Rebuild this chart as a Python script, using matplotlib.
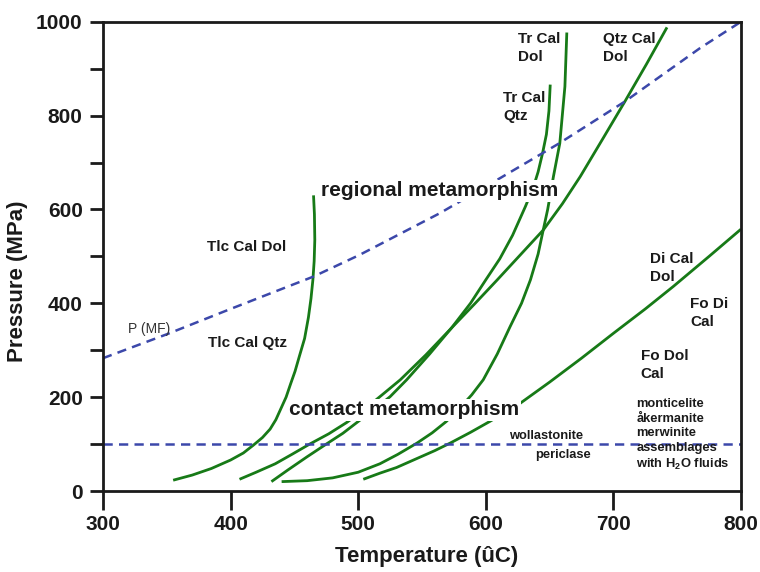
import matplotlib
matplotlib.use("Agg")
import matplotlib.pyplot as plt

tlc_T = [355, 370, 385, 400, 410, 418, 425, 431, 435.5, 439.5, 443.5, 447, 450.5, 454, 458, 461, 463, 464.5, 465.5, 466, 465.7, 465]
tlc_P = [23, 34, 48, 66, 81, 98, 114, 132, 152, 176, 200, 228, 255, 288, 325, 370, 410, 450, 490, 535, 590, 630]

qcd_T = [407, 420, 435, 448, 462, 477, 491, 504, 517, 533, 553, 573, 591, 609, 627, 645, 660, 674, 692, 709, 726, 742]
qcd_P = [25, 40, 58, 78, 100, 122, 146, 172, 201, 237, 290, 347, 398, 450, 503, 556, 612, 670, 752, 830, 910, 988]

trq_T = [432, 445, 460, 475, 488, 499, 512, 525, 538, 556, 573, 588, 600, 611, 621, 631, 637, 641, 644.5, 647.5, 649.5, 650.5]
trq_P = [20, 45, 73, 100, 123, 146, 173, 201, 237, 292, 347, 400, 450, 495, 545, 606, 645, 680, 720, 760, 810, 866]

trd_T = [440, 460, 480, 500, 517, 531, 546, 558, 569, 579, 589, 598, 609, 619, 628, 635, 641, 645, 648.5, 653, 658, 662, 663.5]
trd_P = [20, 22, 28, 40, 58, 78, 102, 124, 148, 175, 205, 237, 292, 350, 400, 450, 505, 556, 600, 670, 741, 862, 977]

di_T = [504, 517, 530, 545, 560, 572, 588, 603, 627, 650, 675, 700, 725, 747, 775, 800]
di_P = [25, 38, 50, 68, 86, 102, 125, 148, 187, 232, 283, 336, 388, 436, 500, 558]

mf_T = [300, 350, 400, 465, 501, 564, 612, 657, 709, 768, 800]
mf_P = [283, 334, 388, 457, 503, 592, 668, 740, 830, 944, 1000]

p_contato = 100

plt.rcParams["font.family"] = ["Liberation Sans", "DejaVu Sans"]
plt.rcParams["font.weight"] = "bold"
plt.rcParams["mathtext.fontset"] = "custom"
plt.rcParams["mathtext.rm"] = "Liberation Sans:bold"
plt.rcParams["mathtext.default"] = "rm"

verde = "#177a17"
azul = "#3c48aa"
preto = "#1a1a1a"

fig = plt.figure(figsize=(7.6, 5.72), dpi=100)
ax = fig.add_axes([0.1355, 0.1416, 0.8395, 0.8204])

for T, P in [(tlc_T, tlc_P), (qcd_T, qcd_P), (trq_T, trq_P), (trd_T, trd_P), (di_T, di_P)]:
    ax.plot(T, P, color=verde, lw=2.0, solid_capstyle="butt", solid_joinstyle="round", zorder=2)

ax.plot(mf_T, mf_P, color=azul, lw=1.8, dashes=(3.7, 2.5), zorder=2)
ax.plot([300, 800], [p_contato, p_contato], color=azul, lw=1.8, dashes=(3.7, 2.5), zorder=2)

ax.set_xlim(300, 800)
ax.set_ylim(0, 1000)
ax.set_xticks([300, 400, 500, 600, 700, 800])
ax.set_yticks([0, 200, 400, 600, 800, 1000])
ax.set_yticks(range(100, 1000, 200), minor=True)

for s in ax.spines.values():
    s.set_linewidth(2.0)
    s.set_color(preto)
ax.tick_params(axis="x", direction="out", length=13.5, width=2, pad=4, labelsize=15, colors=preto)
ax.tick_params(axis="y", which="both", direction="out", length=9.6, width=2, pad=5, labelsize=15, colors=preto)
for lb in ax.get_xticklabels() + ax.get_yticklabels():
    lb.set_fontweight("bold")

ax.set_xlabel("Temperature (ûC)", fontsize=16, fontweight="bold", color=preto)
ax.set_ylabel("Pressure (MPa)", fontsize=16, fontweight="bold", color=preto)
ax.xaxis.set_label_coords(0.508, -0.117)
ax.yaxis.set_label_coords(-0.118, 0.448)

# caixas brancas escondem as curvas atrás dos títulos
caixa = dict(facecolor="white", edgecolor="none", pad=1)
ax.text(564, 640, "regional metamorphism", fontsize=15, fontweight="bold", ha="center", va="center",
        color=preto, bbox=caixa, zorder=3)
ax.text(536, 173, "contact metamorphism", fontsize=15, fontweight="bold", ha="center", va="center",
        color=preto, bbox=caixa, zorder=3)

rotulos = [
    (381.5, 520, "Tlc Cal Dol"),
    (382, 316, "Tlc Cal Qtz"),
    (625, 944, "Tr Cal\nDol"),
    (613.5, 819, "Tr Cal\nQtz"),
    (691.5, 944, "Qtz Cal\nDol"),
    (729, 476, "Di Cal\nDol"),
    (760, 380, "Fo Di\nCal"),
    (721.5, 268, "Fo Dol\nCal"),
]
for T, P, txt in rotulos:
    ax.text(T, P, txt, fontsize=11, fontweight="bold", ha="left", va="center",
            linespacing=1.35, color=preto, zorder=3)

ax.text(319.5, 345, "P (MF)", fontsize=10, fontweight="normal", ha="left", va="center", color="#333333")
ax.text(618.5, 118, "wollastonite", fontsize=9.3, fontweight="bold", ha="left", va="center", color=preto)
ax.text(638.5, 77, "periclase", fontsize=9.3, fontweight="bold", ha="left", va="center", color=preto)
ax.text(718, 119, "monticelite\nåkermanite\nmerwinite\nassemblages\nwith H$_2$O fluids",
        fontsize=9.3, fontweight="bold", ha="left", va="center", linespacing=1.3, color=preto)

fig.savefig("out.png", dpi=100)
